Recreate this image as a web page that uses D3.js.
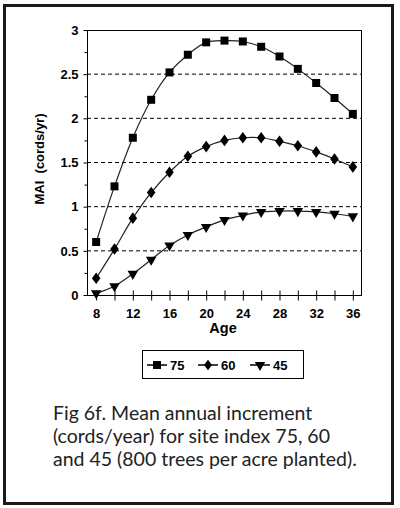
<!DOCTYPE html>
<html><head><meta charset="utf-8">
<script src="https://cdn.jsdelivr.net/npm/d3@7"></script>
<style>
html,body{margin:0;padding:0;background:#fff;}
svg{display:block;}
</style></head>
<body>
<script>
const ages = [8,10,12,14,16,18,20,22,24,26,28,30,32,34,36];
const si75 = [0.60,1.23,1.78,2.21,2.52,2.72,2.86,2.88,2.87,2.81,2.70,2.56,2.40,2.23,2.05];
const si60 = [0.19,0.52,0.87,1.16,1.39,1.57,1.68,1.75,1.78,1.78,1.74,1.69,1.62,1.54,1.45];
const si45 = [0.02,0.10,0.24,0.40,0.56,0.68,0.77,0.85,0.90,0.94,0.95,0.95,0.94,0.92,0.89];
const seriesNames = ["75","60","45"];
const xTickLabels = [8,12,16,20,24,28,32,36];
const yTickLabels = [0,0.5,1,1.5,2,2.5,3];
const captionLines = ["Fig 6f. Mean annual increment","(cords/year) for site index 75, 60","and 45 (800 trees per acre planted)."];

const W=400,H=508;
const svg=d3.select("body").append("svg").attr("width",W).attr("height",H);

// outer frame
svg.append("rect").attr("x",4.5).attr("y",5.5).attr("width",388).attr("height",498)
  .attr("fill","none").attr("stroke","#1a1a1a").attr("stroke-width",3);

const L=87,R=362,T=30,B=295;
const x=d3.scaleLinear().domain([7,37]).range([L,R]);
const y=d3.scaleLinear().domain([0,3]).range([B,T]);
const font="Arial, 'Liberation Sans', sans-serif";

// gridlines
svg.append("g").selectAll("line").data([0.5,1,1.5,2,2.5]).join("line")
  .attr("x1",L).attr("x2",R).attr("y1",d=>y(d)).attr("y2",d=>y(d))
  .attr("stroke","#000").attr("stroke-width",1).attr("stroke-dasharray","4,3");

// frame top/right
svg.append("line").attr("x1",L).attr("x2",R).attr("y1",T+0.5).attr("y2",T+0.5).attr("stroke","#000");
svg.append("line").attr("x1",R-0.5).attr("x2",R-0.5).attr("y1",T).attr("y2",B).attr("stroke","#000");

// y axis
const yAxis=d3.axisLeft(y).tickValues(yTickLabels).tickSize(4).tickPadding(5).tickFormat(d=>String(d));
const gy=svg.append("g").attr("transform",`translate(${L+0.5},0)`).call(yAxis);
gy.select(".domain").attr("d",`M0,${T}V${B}`).attr("stroke","#000");
gy.selectAll("text").attr("font-family",font).attr("font-weight","bold").attr("font-size",13).attr("fill","#000");
const yMinor=d3.axisLeft(y).tickValues(d3.range(0.25,3,0.5)).tickSize(3).tickFormat("");
const gy2=svg.append("g").attr("transform",`translate(${L+0.5},0)`).call(yMinor);
gy2.select(".domain").remove();

// x axis
const xAxis=d3.axisBottom(x).tickValues(ages).tickSizeInner(5).tickSizeOuter(0).tickPadding(8)
  .tickFormat(d=>xTickLabels.includes(d)?String(d):"");
const gx=svg.append("g").attr("transform",`translate(0,${B+0.5})`).call(xAxis);
gx.select(".domain").attr("d",`M${L},0H${R}`).attr("stroke","#000");
gx.selectAll(".tick line").attr("y1",-5).attr("y2",5).attr("stroke","#000");
gx.selectAll("text").attr("font-family",font).attr("font-weight","bold").attr("font-size",13).attr("fill","#000");

// titles
svg.append("text").attr("transform",`translate(44,159) rotate(-90)`).attr("text-anchor","middle")
  .attr("font-family",font).attr("font-weight","bold").attr("font-size",13).attr("xml:space","preserve").text("MAI  (cords/yr)");
svg.append("text").attr("x",223).attr("y",333).attr("text-anchor","middle")
  .attr("font-family",font).attr("font-weight","bold").attr("font-size",14.5).text("Age");

// series
const data=[si75,si60,si45];
const sym=[d3.symbolSquare,d3.symbolDiamond,d3.symbolTriangle];
const symSize=[64,40,48];
const line=d3.line().x((d,i)=>x(ages[i])).y(d=>y(d)).curve(d3.curveCatmullRom);
function marker(g,k){
  const p=g.append("path").attr("d",d3.symbol().type(sym[k]).size(symSize[k])()).attr("fill","#000");
  if(k===2) p.attr("transform","rotate(180)");
  return p;
}
data.forEach((vals,k)=>{
  svg.append("path").attr("d",line(vals)).attr("fill","none").attr("stroke","#222").attr("stroke-width",1.2);
  const g=svg.append("g");
  vals.forEach((v,i)=>{
    const m=g.append("g").attr("transform",`translate(${x(ages[i])},${y(v)})`);
    if(k===1){m.append("path").attr("d",d3.symbol().type(d3.symbolDiamond).size(48)()).attr("fill","#000").attr("transform","scale(1.15,0.9)");}
    else marker(m,k);
  });
});

// legend
svg.append("rect").attr("x",142.5).attr("y",350.5).attr("width",161).attr("height",28)
  .attr("fill","none").attr("stroke","#000").attr("stroke-width",1);
const legX=[147,198,250];
seriesNames.forEach((n,k)=>{
  const ly=365;
  svg.append("line").attr("x1",legX[k]).attr("x2",legX[k]+20).attr("y1",ly).attr("y2",ly).attr("stroke","#000").attr("stroke-width",1.5);
  const m=svg.append("g").attr("transform",`translate(${legX[k]+10},${ly})`);
  if(k===1){m.append("path").attr("d",d3.symbol().type(d3.symbolDiamond).size(40)()).attr("fill","#000").attr("transform","scale(1.15,0.9)");}
  else marker(m,k);
  svg.append("text").attr("x",legX[k]+23).attr("y",ly+4.5).attr("font-family",font).attr("font-weight","bold")
    .attr("font-size",13).text(n);
});

// caption
svg.append("g").selectAll("text").data(captionLines).join("text")
  .attr("x",53).attr("y",(d,i)=>420+i*23).attr("font-family","Lato, 'Open Sans', sans-serif")
  .attr("font-size",19.5).attr("fill","#222").text(d=>d);
</script>
</body></html>
